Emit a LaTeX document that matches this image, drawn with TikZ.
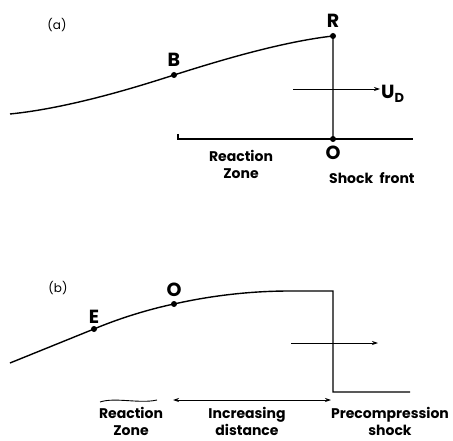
\documentclass[tikz,border=0pt]{standalone}
\usepackage{fontspec}
\setsansfont{Poppins}
\usetikzlibrary{arrows.meta,positioning}

\begin{document}
\begin{tikzpicture}[x=1pt,y=-1pt,
  dot/.style={circle,fill,inner sep=0pt,minimum size=6pt},
  curve/.style={line width=1.4pt},
  pt/.style={font=\sffamily\bfseries\fontsize{19}{19}\selectfont,inner sep=1pt},
  tag/.style={font=\sffamily\fontsize{12}{12}\selectfont},
  lbl/.style={font=\sffamily\bfseries\fontsize{14}{17}\selectfont,align=center,inner sep=0pt},
  flow/.style={line width=0.8pt,-{Stealth[length=6pt,width=4pt]}}]
  \useasboundingbox (0,0) rectangle (453,441);

  % (a) detonation front
  \node[tag] (tagA) at (57,25) {(a)};
  \coordinate (a0) at (10,114);
  \node[dot] (B) at (174,75) {};
  \node[dot] (R) at (333,36) {};
  \node[dot] (Oa) at (333,139) {};
  \coordinate (zl) at (178,134);
  \coordinate (zr) at (413,139);
  \node[pt,above=4pt of B] (labB) {B};
  \node[pt,above=4pt of R] (labR) {R};
  \node[pt,below=3pt of Oa] (labOa) {O};
  \draw[curve] (a0) .. controls (70,108) and (140,86) .. (B.center)
    .. controls (215,62) and (280,42) .. (R.center) -- (Oa.center);
  \draw[curve] (zl) |- (Oa.center) -- (zr);
  \coordinate (ua) at (293,89);
  \node[pt,anchor=west] (UD) at (380,94) {U\raisebox{-0.35ex}{\fontsize{13}{13}\selectfont D}};
  \draw[flow] (ua) -- (ua -| UD.west);
  \node[lbl] (zoneA) at (241,164) {Reaction\\Zone};
  \node[lbl,anchor=west] (front) at (329,178) {Shock\hspace{0.45em}front};

  % (b) precompressed
  \node[tag] (tagB) at (58,288) {(b)};
  \coordinate (b0) at (10,363);
  \node[dot] (E) at (94,329) {};
  \node[dot] (Ob) at (174,304) {};
  \coordinate (top) at (333,291);
  \coordinate (foot) at (333,392);
  \coordinate (tail) at (410,392);
  \node[pt,above=1pt of E] (labE) {E};
  \node[pt,above=3pt of Ob] (labOb) {O};
  \draw[curve] (b0) -- (E.center) .. controls (120,318) and (150,309) .. (Ob.center)
    .. controls (205,297) and (245,291) .. (290,291) -- (top) -- (foot) -- (tail);
  \coordinate (va) at (291,343);
  \coordinate (vb) at (378,343);
  \draw[flow] (va) -- (vb);
  \coordinate (wl) at (100,402);
  \coordinate (wr) at (157,400);
  \draw[line width=0.9pt] (wl) .. controls (115,397) and (140,404) .. (wr);
  \coordinate (dl) at (173,400);
  \coordinate (dr) at (331,400);
  \draw[line width=0.8pt,{Stealth[length=6pt,width=4pt]}-{Stealth[length=6pt,width=4pt]}] (dl) -- (dr);
  \node[lbl] (zoneB) at (131,421) {Reaction\\Zone};
  \node[lbl] (dist) at (247,421) {Increasing\\distance};
  \node[lbl] (pre) at (390,421) {Precompression\\shock};
\end{tikzpicture}
\end{document}
